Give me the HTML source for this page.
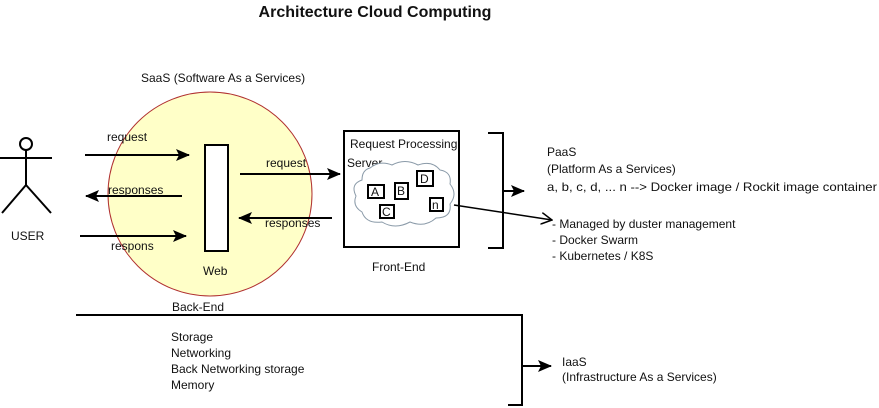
<!DOCTYPE html>
<html><head><meta charset="utf-8"><style>
html,body{margin:0;padding:0;background:#fff;}
svg{display:block;}
text{font-family:"Liberation Sans",sans-serif;font-size:12px;fill:#111;}
</style></head><body>
<svg width="879" height="408" viewBox="0 0 879 408" xmlns="http://www.w3.org/2000/svg">
<defs>
<marker id="ah" markerWidth="14" markerHeight="12" refX="13" refY="6" orient="auto" markerUnits="userSpaceOnUse"><path d="M0,0 L14,6 L0,12 L3,6 Z" fill="#000"/></marker>
<marker id="oa" markerWidth="12" markerHeight="12" refX="11" refY="6" orient="auto" markerUnits="userSpaceOnUse"><path d="M0,0 L11,6 L0,12" fill="none" stroke="#000" stroke-width="1.5"/></marker>
</defs>
<text x="375" y="17" text-anchor="middle" style="font-weight:bold;font-size:16px">Architecture Cloud Computing</text>
<text x="141" y="82">SaaS (Software As a Services)</text>
<circle cx="210" cy="194" r="102" fill="#ffffc8" stroke="#b03030" stroke-width="1"/>
<rect x="205" y="145" width="23" height="106" fill="#fff" stroke="#000" stroke-width="2"/>
<text x="203" y="275">Web</text>
<text x="172" y="311">Back-End</text>
<circle cx="26" cy="144" r="6" fill="#fff" stroke="#000" stroke-width="2"/>
<line x1="26" y1="150" x2="26" y2="185" stroke="#000" stroke-width="2"/>
<line x1="0" y1="158" x2="52" y2="158" stroke="#000" stroke-width="2"/>
<line x1="26" y1="185" x2="2" y2="213" stroke="#000" stroke-width="2"/>
<line x1="26" y1="185" x2="51" y2="213" stroke="#000" stroke-width="2"/>
<text x="11" y="240">USER</text>
<line x1="85" y1="155" x2="189" y2="155" stroke="#000" stroke-width="2" marker-end="url(#ah)"/>
<text x="107" y="141">request</text>
<line x1="182" y1="196" x2="86" y2="196" stroke="#000" stroke-width="2" marker-end="url(#ah)"/>
<text x="108" y="194">responses</text>
<line x1="80" y1="236" x2="186" y2="236" stroke="#000" stroke-width="2" marker-end="url(#ah)"/>
<text x="111" y="250">respons</text>
<line x1="240" y1="174" x2="340" y2="174" stroke="#000" stroke-width="2" marker-end="url(#ah)"/>
<text x="266" y="167">request</text>
<line x1="332" y1="218" x2="239" y2="218" stroke="#000" stroke-width="2" marker-end="url(#ah)"/>
<text x="265" y="227">responses</text>
<rect x="344" y="131" width="115" height="116" fill="#fff" stroke="#000" stroke-width="2"/>
<text x="350" y="148">Request Processing</text>
<text x="347" y="167">Server</text>
<path d="M370,168 Q380,160 392,165 Q405,158 418,165 Q432,160 440,170 Q452,172 450,184 Q458,194 450,204 Q452,218 436,218 Q425,228 410,222 Q395,230 382,222 Q366,224 362,212 Q352,206 356,196 Q350,184 362,180 Q362,170 370,168 Z" fill="#fff" stroke="#8a9aa8" stroke-width="1"/>
<rect x="368" y="185" width="16" height="13" fill="#fff" stroke="#000" stroke-width="2"/><text x="371" y="196">A</text>
<rect x="395" y="183" width="13" height="16" fill="#fff" stroke="#000" stroke-width="2"/><text x="397" y="195">B</text>
<rect x="417" y="171" width="16" height="15" fill="#fff" stroke="#000" stroke-width="2"/><text x="420" y="183">D</text>
<rect x="380" y="205" width="14" height="13" fill="#fff" stroke="#000" stroke-width="2"/><text x="382" y="216">C</text>
<rect x="430" y="198" width="13" height="13" fill="#fff" stroke="#000" stroke-width="2"/><text x="432" y="209">n</text>
<text x="372" y="271">Front-End</text>
<path d="M488,133 L503,133 L503,248 L488,248" fill="none" stroke="#000" stroke-width="2"/>
<line x1="503" y1="191" x2="524" y2="191" stroke="#000" stroke-width="2" marker-end="url(#ah)"/>
<line x1="454" y1="205" x2="552" y2="220" stroke="#000" stroke-width="1.5" marker-end="url(#oa)"/>
<text x="547" y="156">PaaS</text>
<text x="547" y="173">(Platform As a Services)</text>
<text x="547" y="191" textLength="330" lengthAdjust="spacingAndGlyphs">a, b, c, d, ... n  --&gt; Docker image / Rockit image container</text>
<text x="552" y="228">- Managed by duster management</text>
<text x="552" y="244">- Docker Swarm</text>
<text x="552" y="260">- Kubernetes / K8S</text>
<path d="M76,315 L522,315 L522,405 L508,405" fill="none" stroke="#000" stroke-width="2"/>
<line x1="522" y1="366" x2="551" y2="366" stroke="#000" stroke-width="2" marker-end="url(#ah)"/>
<text x="171" y="341">Storage</text>
<text x="171" y="357">Networking</text>
<text x="171" y="373">Back Networking storage</text>
<text x="171" y="389">Memory</text>
<text x="562" y="366">IaaS</text>
<text x="562" y="381">(Infrastructure As a Services)</text>
</svg>
</body></html>
